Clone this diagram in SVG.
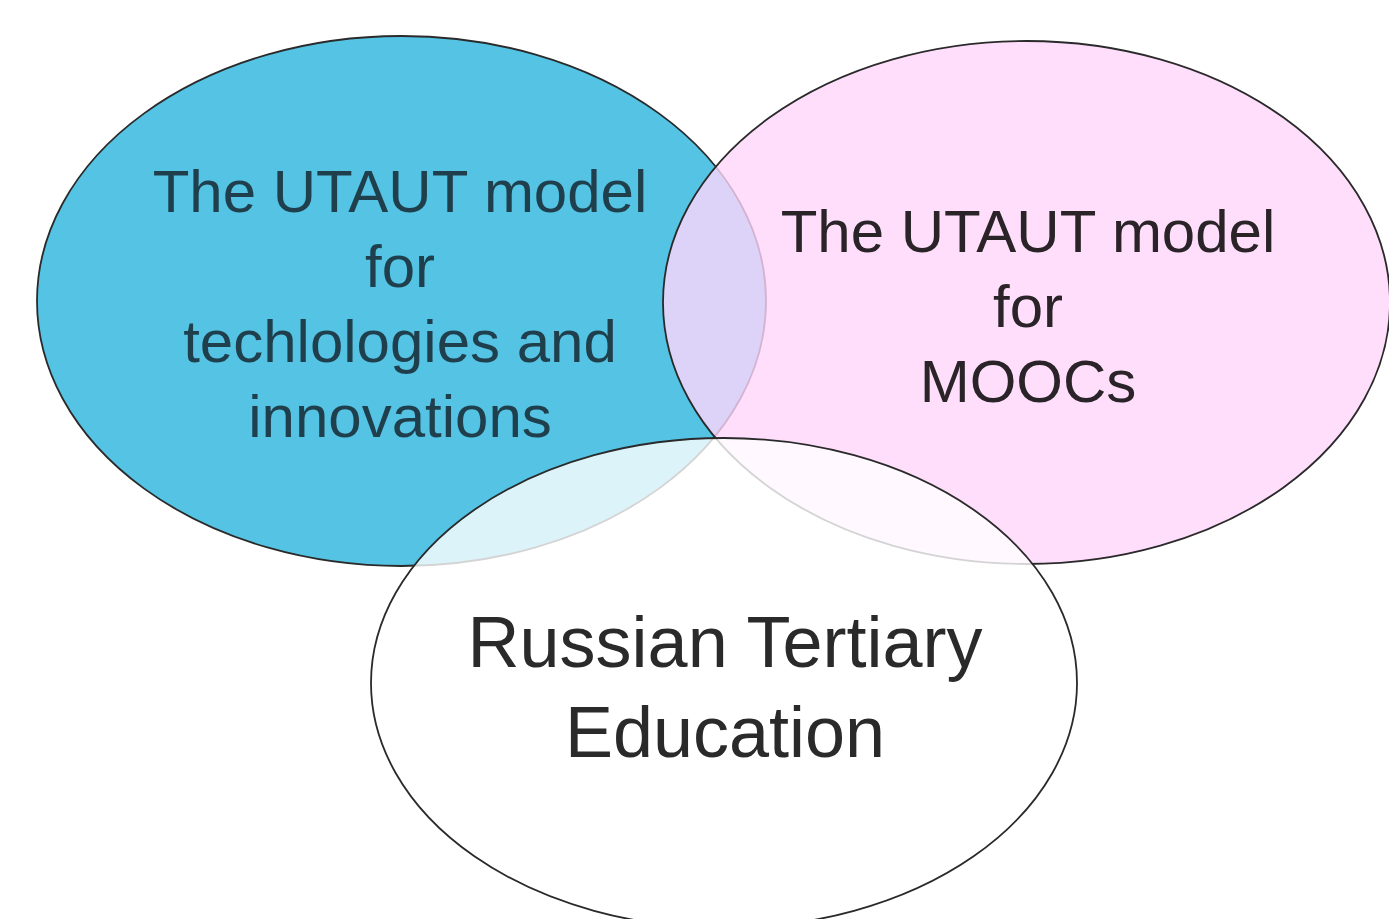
<svg xmlns="http://www.w3.org/2000/svg" width="1389" height="919" viewBox="0 0 1389 919">
<style>
.ell{stroke:#2a2a2a;stroke-width:1.8}
.t{font-family:"Liberation Sans",Arial,sans-serif;text-anchor:middle}
.a{font-size:60px;fill:#1f3f4c}
.b{font-size:60px;fill:#2a2328}
.c{font-size:72px;fill:#2a2a2a}
</style>
<rect width="1389" height="919" fill="#ffffff"/>
<g id="node-utaut-tech">
<ellipse class="ell" cx="401.5" cy="301" rx="364.5" ry="265" fill="#54c3e4"/>
<text class="t a" x="400" y="212">The UTAUT model</text>
<text class="t a" x="400" y="287">for</text>
<text class="t a" x="400" y="362">techlologies and</text>
<text class="t a" x="400" y="437">innovations</text>
</g>
<g id="node-utaut-moocs">
<ellipse class="ell" cx="1026.5" cy="302.5" rx="363.5" ry="261.5" fill="#ffd6fb" fill-opacity="0.8"/>
<text class="t b" x="1028" y="252">The UTAUT model</text>
<text class="t b" x="1028" y="327">for</text>
<text class="t b" x="1028" y="402">MOOCs</text>
</g>
<g id="node-russian">
<ellipse class="ell" cx="724" cy="683" rx="353" ry="245" fill="#ffffff" fill-opacity="0.8"/>
<text class="t c" x="725" y="667">Russian Tertiary</text>
<text class="t c" x="725" y="757">Education</text>
</g>
<g id="connectors"></g>
</svg>
